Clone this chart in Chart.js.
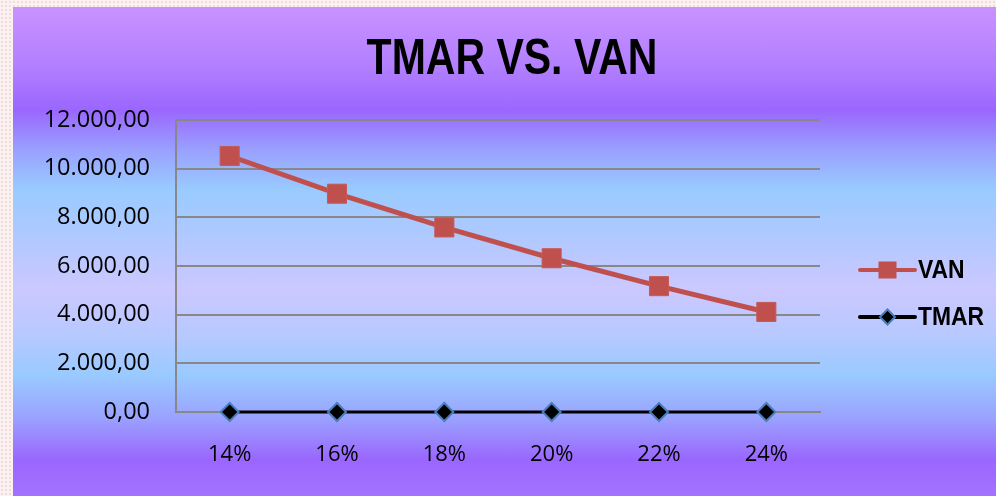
<!DOCTYPE html>
<html>
<head>
<meta charset="utf-8">
<script src="https://cdn.jsdelivr.net/npm/chart.js@4/dist/chart.umd.min.js"></script>
<style>
  html, body { margin: 0; padding: 0; }
  body {
    width: 996px; height: 496px; overflow: hidden;
    background-color: #fbf1f0;
    background-image: radial-gradient(#f1dcdc 1px, transparent 1.2px);
    background-size: 4px 4px;
    position: relative;
  }
  #wrap {
    position: absolute; left: 13px; top: 7px; width: 983px; height: 489px;
    background: linear-gradient(to bottom,
      #c892ff 0px, #b27fff 60px, #9a66fe 103px, #99a3fe 145px, #99cbff 183px,
      #b0c9ff 230px, #cbc8ff 283px, #b6c9ff 330px, #99caff 368px, #9aa3fe 410px,
      #9a66fe 453px, #a472ff 489px);
  }
  canvas { display: block; }
</style>
</head>
<body>
<div id="wrap"><canvas id="c" width="983" height="489"></canvas></div>
<script>
const chartTitle = 'TMAR VS. VAN';
const categories = ['14%', '16%', '18%', '20%', '22%', '24%'];
const vanValues = [10521, 8971, 7586, 6319, 5172, 4111];
const tmarValues = [0.14, 0.16, 0.18, 0.20, 0.22, 0.24];
const seriesNames = ['VAN', 'TMAR'];
const yTickMax = 12000;
const yTickStep = 2000;

function fmt(v) {
  const neg = v < 0; v = Math.abs(v);
  let [ip, dp] = v.toFixed(2).split('.');
  ip = ip.replace(/\B(?=(\d{3})+(?!\d))/g, '.');
  return (neg ? '-' : '') + ip + ',' + dp;
}

// draw text condensed horizontally (no narrow font installed)
function condensedText(ctx, text, x, y, squeeze, align) {
  const w = ctx.measureText(text).width * squeeze;
  ctx.save();
  let left = x;
  if (align === 'center') left = x - w / 2;
  ctx.translate(left, y);
  ctx.scale(squeeze, 1);
  ctx.textAlign = 'left';
  ctx.fillText(text, 0, 0);
  ctx.restore();
}

const customDecor = {
  id: 'customDecor',
  afterDraw(chart) {
    const ctx = chart.ctx;
    const ca = chart.chartArea;
    // title
    ctx.save();
    ctx.fillStyle = '#000';
    ctx.font = 'bold 50px "Liberation Sans", sans-serif';
    ctx.textBaseline = 'alphabetic';
    condensedText(ctx, chartTitle, (ca.left + ca.right) / 2 + 14, 67, 0.82, 'center');
    ctx.restore();
    // legend
    const x0 = ca.right + 40, x1 = ca.right + 95;
    const yc = [ca.top + 150, ca.top + 197];
    chart.data.datasets.forEach((ds, i) => {
      const y = yc[i];
      ctx.save();
      ctx.strokeStyle = ds.borderColor;
      ctx.lineWidth = 4;
      ctx.lineCap = 'round';
      ctx.beginPath(); ctx.moveTo(x0, y); ctx.lineTo(x1, y); ctx.stroke();
      const cx = (x0 + x1) / 2;
      ctx.fillStyle = ds.pointBackgroundColor;
      ctx.strokeStyle = ds.pointBorderColor;
      ctx.lineWidth = ds.pointBorderWidth;
      ctx.lineCap = 'butt';
      if (ds.pointStyle === 'rect') {
        ctx.fillRect(cx - 9, y - 8.5, 18, 17);
      } else {
        ctx.beginPath();
        ctx.moveTo(cx, y - 7.5); ctx.lineTo(cx + 7.5, y); ctx.lineTo(cx, y + 7.5); ctx.lineTo(cx - 7.5, y);
        ctx.closePath(); ctx.fill(); ctx.stroke();
      }
      ctx.fillStyle = '#000';
      ctx.font = 'bold 26px "Liberation Sans", sans-serif';
      ctx.textBaseline = 'middle';
      condensedText(ctx, ds.label, x1 + 3, y + 1, 0.88, 'left');
      ctx.restore();
    });
  }
};

new Chart(document.getElementById('c'), {
  type: 'line',
  data: {
    labels: categories,
    datasets: [
      {
        label: seriesNames[0],
        data: vanValues,
        clip: false,
        borderColor: '#c0504d',
        backgroundColor: '#c0504d',
        borderWidth: 5,
        pointStyle: 'rect',
        pointRadius: 13.5,
        pointHoverRadius: 13.5,
        pointBackgroundColor: '#c0504d',
        pointBorderColor: '#c55a57',
        pointBorderWidth: 1,
        tension: 0
      },
      {
        label: seriesNames[1],
        data: tmarValues,
        clip: false,
        borderColor: '#000000',
        backgroundColor: '#000000',
        borderWidth: 3,
        pointStyle: 'rectRot',
        pointRadius: 9,
        pointHoverRadius: 9,
        pointBackgroundColor: '#000000',
        pointBorderColor: '#4a7ebb',
        pointBorderWidth: 2,
        tension: 0
      }
    ]
  },
  options: {
    responsive: false,
    animation: false,
    layout: { padding: { left: 0, right: 176, top: 113, bottom: 0 } },
    plugins: {
      legend: { display: false },
      tooltip: { enabled: false },
      title: { display: false }
    },
    scales: {
      x: {
        offset: true,
        grid: { display: false, drawTicks: false, offset: true },
        border: { display: true, color: '#888888', width: 2 },
        ticks: {
          color: '#000',
          font: { family: '"Open Sans", sans-serif', size: 22 },
          padding: 30
        },
        afterFit(scale) { scale.height = 84; }
      },
      y: {
        min: 0,
        max: yTickMax,
        grid: { color: '#888888', lineWidth: 2, drawTicks: false },
        border: { display: true, color: '#888888', width: 2 },
        ticks: {
          stepSize: yTickStep,
          color: '#000',
          font: { family: '"Open Sans", sans-serif', size: 23.5 },
          padding: 26,
          callback: (v) => fmt(v)
        },
        afterFit(scale) { scale.width = 163; }
      }
    }
  },
  plugins: [customDecor]
});
</script>
</body>
</html>
